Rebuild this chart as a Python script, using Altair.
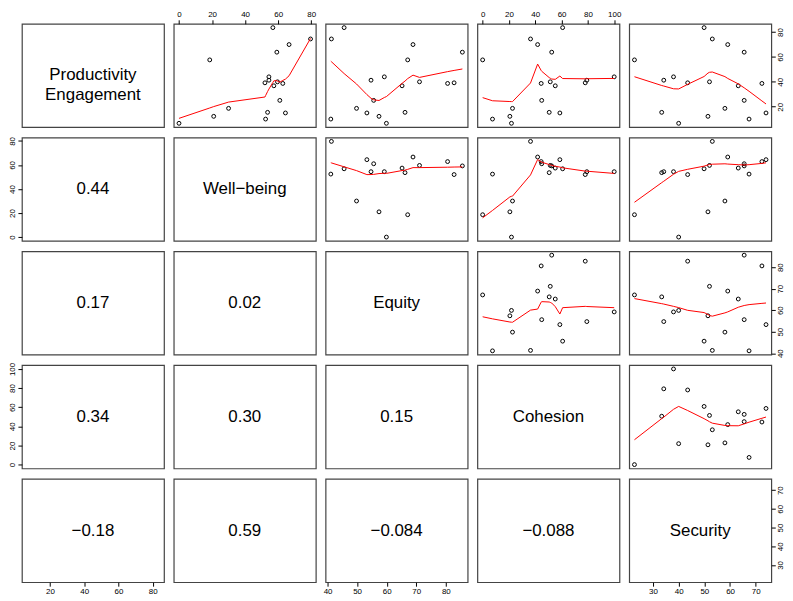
import altair as alt
import numpy as np
import pandas as pd

keys = ["PE", "WB", "EQ", "CO", "SE"]
labels = ["Productivity\nEngagement", "Well\u2212being", "Equity", "Cohesion", "Security"]

productivity = [6.7, 57.6, 12.3, 18.7, 39.2, 44.0, 41.3, 83.5, 36.8, 10.1, 15.5, 40.0, 63.8, 25.1, 38.7, 15.0, 69.9, 74.4]
wellbeing = [0.0, 18.6, 21.0, 30.0, 52.0, 54.4, 54.4, 56.8, 57.4, 52.4, 53.6, 59.6, 59.2, 61.0, 62.8, 64.4, 66.6, 79.6]
equity = [59.9, 67.1, 57.4, 49.8, 82.8, 59.2, 54.7, 45.6, 65.2, 41.1, 66.2, 71.1, 85.6, 55.6, 80.6, 53.3, 68.9, 41.3]
cohesion = [21.9, 0.0, 20.7, 22.7, 78.0, 100.0, 79.2, 60.8, 55.2, 7.5, 50.6, 51.4, 52.5, 44.9, 44.5, 58.7, 41.8, 36.4]
security = [40.0, 22.8, 51.4, 58.0, 43.5, 38.0, 34.2, 49.9, 63.2, 67.4, 33.4, 52.0, 65.5, 65.5, 72.4, 74.0, 59.1, 53.1]

tick_pe = [20, 40, 60, 80]
tick_wb = [0, 20, 40, 60, 80]
tick_eq = [40, 50, 60, 70, 80]
tick_co = [0, 20, 40, 60, 80, 100]
tick_se = [30, 40, 50, 60, 70]

# correlation labels shown in the lower panels (row, col)
corr_cells = [(1, 0), (2, 0), (2, 1), (3, 0), (3, 1), (3, 2), (4, 0), (4, 1), (4, 2), (4, 3)]
corr_text = ["0.44", "0.17", "0.02", "0.34", "0.30", "0.15", "\u22120.18", "0.59", "\u22120.084", "\u22120.088"]

data = pd.DataFrame({"PE": productivity, "WB": wellbeing, "EQ": equity, "CO": cohesion, "SE": security})
ticks = {"PE": tick_pe, "WB": tick_wb, "EQ": tick_eq, "CO": tick_co, "SE": tick_se}
corr_map = dict(zip(corr_cells, corr_text))


# ---- R's lowess (f = 2/3, iter = 3), as used by panel.smooth ----
def _lowest(x, y, n, xs, nleft, nright, rw, userw):
    rng = x[-1] - x[0]
    h = max(xs - x[nleft], x[nright] - xs)
    h9, h1 = 0.999 * h, 0.001 * h
    w = np.zeros(n)
    a = 0.0
    j = nleft
    while j < n:
        r = abs(x[j] - xs)
        if r <= h9:
            w[j] = 1.0 if r <= h1 else (1 - (r / h) ** 3) ** 3
            if userw:
                w[j] *= rw[j]
            a += w[j]
        elif x[j] > xs:
            break
        j += 1
    nrt = j - 1
    if a <= 0:
        return 0.0, False
    sl = slice(nleft, nrt + 1)
    w[sl] /= a
    if h > 0:
        a = np.sum(w[sl] * x[sl])
        b = xs - a
        c = np.sum(w[sl] * (x[sl] - a) ** 2)
        if np.sqrt(c) > 0.001 * rng:
            b /= c
            w[sl] *= b * (x[sl] - a) + 1
    return float(np.sum(w[sl] * y[sl])), True


def lowess(xv, yv, f=2 / 3, iters=3):
    order = np.argsort(np.asarray(xv, float), kind="stable")
    x = np.asarray(xv, float)[order]
    y = np.asarray(yv, float)[order]
    n = len(x)
    ns = max(2, min(n, int(f * n + 1e-7)))
    delta = 0.01 * (x[-1] - x[0])
    ys = np.zeros(n)
    rw = np.ones(n)
    for it in range(iters + 1):
        nleft, nright, last, i = 0, ns - 1, -1, 0
        while True:
            if nright < n - 1:
                d1 = x[i] - x[nleft]
                d2 = x[nright + 1] - x[i]
                if d1 > d2:
                    nleft += 1
                    nright += 1
                    continue
            val, ok = _lowest(x, y, n, x[i], nleft, nright, rw, it > 0)
            ys[i] = val if ok else y[i]
            if last < i - 1:
                denom = x[i] - x[last]
                for j in range(last + 1, i):
                    alpha = (x[j] - x[last]) / denom
                    ys[j] = alpha * ys[i] + (1 - alpha) * ys[last]
            last = i
            cut = x[last] + delta
            i = last + 1
            while i < n:
                if x[i] > cut:
                    break
                if x[i] == x[last]:
                    ys[i] = ys[last]
                    last = i
                i += 1
            i = max(last + 1, i - 1)
            if last >= n - 1:
                break
        res = y - ys
        if it >= iters:
            break
        sc = np.mean(np.abs(res))
        s = np.sort(np.abs(res))
        m1 = n // 2
        cmad = 3 * (s[m1] + s[n - m1 - 1]) if n % 2 == 0 else 6 * s[m1]
        if cmad < 1e-7 * sc:
            break
        r = np.abs(res)
        rw = np.where(r <= 0.001 * cmad, 1.0,
                      np.where(r <= 0.999 * cmad, (1 - (r / cmad) ** 2) ** 2, 0.0))
    return x, ys


def domain(k):
    lo, hi = float(data[k].min()), float(data[k].max())
    r = hi - lo
    return [lo - 0.04 * r, hi + 0.04 * r]


W, H = 143, 104
FONT = "Liberation Sans"

panels = []
for i in range(5):
    for j in range(5):
        xk, yk = keys[j], keys[i]
        if i == 0 and j % 2 == 1:
            xaxis = alt.Axis(orient="top", values=ticks[xk], title=None)
        elif i == 4 and j % 2 == 0:
            xaxis = alt.Axis(orient="bottom", values=ticks[xk], title=None)
        else:
            xaxis = None
        if j == 0 and i % 2 == 1:
            yaxis = alt.Axis(orient="left", values=ticks[yk], title=None, labelAngle=270,
                             labelAlign="center", labelBaseline="bottom")
        elif j == 4 and i % 2 == 0:
            yaxis = alt.Axis(orient="right", values=ticks[yk], title=None, labelAngle=270,
                             labelAlign="center", labelBaseline="top")
        else:
            yaxis = None
        xenc = alt.X(f"{xk}:Q", scale=alt.Scale(domain=domain(xk), nice=False, zero=False), axis=xaxis)
        yenc = alt.Y(f"{yk}:Q", scale=alt.Scale(domain=domain(yk), nice=False, zero=False), axis=yaxis)

        base = alt.Chart(data)
        if i < j:
            pts = base.mark_point(shape="circle", filled=False, color="black", size=15,
                                  strokeWidth=1, opacity=1).encode(x=xenc, y=yenc)
            lx, ly = lowess(data[xk].values, data[yk].values)
            ldf = pd.DataFrame({xk: lx, yk: ly, "ord": np.arange(len(lx))})
            line = alt.Chart(ldf).mark_line(color="red", strokeWidth=1, clip=True).encode(
                x=xenc, y=yenc, order="ord:Q")
            panel = alt.layer(pts, line)
        else:
            ghost = base.mark_point(opacity=0).encode(x=xenc, y=yenc)
            txt = labels[i] if i == j else corr_map[(i, j)]
            tchart = alt.Chart(pd.DataFrame({"t": [txt]})).mark_text(
                font=FONT, fontSize=17, lineBreak="\n", lineHeight=19.5, color="black",
                align="center", baseline="middle").encode(
                text="t:N", x=alt.value(W / 2), y=alt.value(H / 2))
            panel = alt.layer(ghost, tchart)
        panels.append(panel.properties(width=W, height=H))

chart = alt.concat(*panels, columns=5, spacing={"row": 10.5, "column": 9.8},
                   bounds="flush", padding=0).configure_view(
    stroke="#444", strokeWidth=1.2
).configure_axis(
    labelFont=FONT, labelFontSize=8, labelColor="black", tickColor="black",
    tickSize=4, tickWidth=1, labelPadding=1, domain=False, grid=False,
    labelFlush=False, labelOverlap=False
)

chart.save("out.html", embed_options={"renderer": "svg", "actions": False})
